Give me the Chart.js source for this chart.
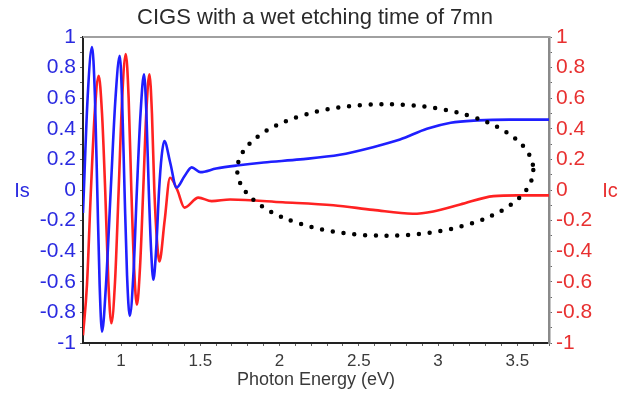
<!DOCTYPE html>
<html>
<head>
<meta charset="utf-8">
<script src="https://cdn.jsdelivr.net/npm/chart.js@4.4.1/dist/chart.umd.min.js"></script>
<style>
  html, body { margin: 0; padding: 0; background: #ffffff; }
  #wrap { width: 630px; height: 394px; }
</style>
</head>
<body>
<div id="wrap"><canvas id="c" width="630" height="394"></canvas></div>
<script>
// ---- data ----
const chartTitle = 'CIGS with a wet etching time of 7mn';
const xTitle = 'Photon Energy (eV)';
const leftTitle = 'Is';
const rightTitle = 'Ic';

const energyIs = [0.76, 0.79, 0.817, 0.835, 0.85, 0.865, 0.88, 0.905, 0.935, 0.965, 0.992, 1.007, 1.022, 1.038, 1.055, 1.078, 1.10, 1.123, 1.145, 1.16, 1.175, 1.19, 1.204, 1.222, 1.24, 1.256, 1.273, 1.31, 1.35, 1.40, 1.446, 1.50, 1.60, 1.73, 1.90, 2.13, 2.38, 2.59, 2.76, 2.93, 3.08, 3.25, 3.45, 3.70];
const valuesIs = [-0.15, 0.62, 0.934, 0.62, 0.0, -0.62, -0.926, -0.62, 0.0, 0.6, 0.877, 0.58, 0.0, -0.56, -0.823, -0.55, 0.0, 0.5, 0.757, 0.5, 0.0, -0.4, -0.587, -0.38, 0.0, 0.22, 0.32, 0.18, 0.016, 0.09, 0.148, 0.117, 0.14, 0.16, 0.18, 0.20, 0.23, 0.28, 0.33, 0.40, 0.44, 0.455, 0.46, 0.46];

const energyIc = [0.76, 0.785, 0.81, 0.835, 0.859, 0.88, 0.90, 0.92, 0.939, 0.962, 0.985, 1.008, 1.03, 1.048, 1.065, 1.083, 1.10, 1.12, 1.14, 1.16, 1.179, 1.195, 1.21, 1.226, 1.242, 1.275, 1.309, 1.355, 1.40, 1.488, 1.572, 1.688, 2.02, 2.34, 2.59, 2.84, 2.97, 3.14, 3.35, 3.50, 3.70];
const valuesIc = [-0.95, -0.62, 0.0, 0.52, 0.746, 0.5, 0.0, -0.6, -0.871, -0.6, 0.0, 0.62, 0.889, 0.6, 0.0, -0.52, -0.75, -0.5, 0.0, 0.52, 0.757, 0.5, 0.0, -0.32, -0.467, -0.2, 0.08, 0.0, -0.115, -0.05, -0.073, -0.062, -0.08, -0.10, -0.13, -0.155, -0.14, -0.095, -0.04, -0.035, -0.035];

const xRange = [0.76, 3.70];
const yRange = [-1, 1];

// dotted ellipse annotation (data units: centre energy / Is value, radii)
const ellipseCenter = [2.667, 0.131];
const ellipseRadii = [0.934, 0.43];

// ---- styling ----
const BLUE = '#1f1fff';
const RED = '#ff2222';
const BLUE_TXT = '#2a2ae0';
const RED_TXT = '#e83030';
const FONT = '"Liberation Sans", Arial, sans-serif';

const toPoints = (xs, ys) => xs.map((x, i) => ({ x: x, y: ys[i] }));
const isMultiple = (v, step) => Math.abs(v / step - Math.round(v / step)) < 1e-6;
const fmt = (v) => String(Math.round(v * 10) / 10);

const extras = {
  id: 'extras',
  afterDraw(chart) {
    const { ctx, chartArea, scales } = chart;
    const { left, right, top } = chartArea;
    const x = scales.x, yIs = scales.yIs;
    ctx.save();
    // top frame line
    ctx.strokeStyle = '#a0a0a0';
    ctx.lineWidth = 2;
    ctx.beginPath();
    ctx.moveTo(left, top);
    ctx.lineTo(right + 1, top);
    ctx.stroke();

    // dotted ellipse
    const cx = x.getPixelForValue(ellipseCenter[0]);
    const cy = yIs.getPixelForValue(ellipseCenter[1]);
    const rx = x.getPixelForValue(ellipseCenter[0] + ellipseRadii[0]) - cx;
    const ry = cy - yIs.getPixelForValue(ellipseCenter[1] + ellipseRadii[1]);
    ctx.strokeStyle = '#000000';
    ctx.lineWidth = 4.5;
    ctx.lineCap = 'round';
    ctx.setLineDash([0, 10.8]);
    ctx.beginPath();
    ctx.ellipse(cx, cy, rx, ry, 0, 0, Math.PI * 2);
    ctx.stroke();
    ctx.setLineDash([]);

    // horizontal side titles
    const y0 = yIs.getPixelForValue(0);
    ctx.font = '20px ' + FONT;
    ctx.textAlign = 'center';
    ctx.textBaseline = 'middle';
    ctx.fillStyle = BLUE_TXT;
    ctx.fillText(leftTitle, 22, y0 + 1);
    ctx.fillStyle = RED_TXT;
    ctx.fillText(rightTitle, 610, y0 + 1);
    ctx.restore();
  }
};

new Chart(document.getElementById('c'), {
  type: 'line',
  data: {
    datasets: [
      {
        label: leftTitle,
        data: toPoints(energyIs, valuesIs),
        yAxisID: 'yIs',
        borderColor: BLUE,
        borderWidth: 2.6,
        pointRadius: 0,
        cubicInterpolationMode: 'monotone',
        fill: false
      },
      {
        label: rightTitle,
        data: toPoints(energyIc, valuesIc),
        yAxisID: 'yIc',
        borderColor: RED,
        borderWidth: 2.6,
        pointRadius: 0,
        cubicInterpolationMode: 'monotone',
        fill: false
      }
    ]
  },
  options: {
    responsive: false,
    animation: false,
    devicePixelRatio: 1,
    layout: { padding: { left: 0, right: 0, top: 0, bottom: 0 } },
    plugins: {
      legend: { display: false },
      tooltip: { enabled: false },
      title: {
        display: true,
        text: chartTitle,
        color: '#2a2a2a',
        font: { family: FONT, size: 22, weight: 'normal', lineHeight: 1.2 },
        padding: { top: 5, bottom: 5.6 }
      }
    },
    scales: {
      x: {
        type: 'linear',
        position: 'bottom',
        min: xRange[0],
        max: xRange[1],
        afterFit(s) { s.height = 51; },
        ticks: {
          stepSize: 0.1,
          includeBounds: false,
          autoSkip: false,
          maxRotation: 0,
          padding: 5,
          color: '#3a3a3a',
          font: { family: FONT, size: 17 },
          callback: (v) => isMultiple(v, 0.5) ? fmt(v) : ''
        },
        grid: { display: true, drawOnChartArea: false, drawTicks: true, tickLength: 3, tickColor: '#666666' },
        border: { display: true, color: '#222222', width: 2 },
        title: {
          display: true,
          text: xTitle,
          color: '#3a3a3a',
          font: { family: FONT, size: 18 },
          padding: { top: 0, bottom: 3 }
        }
      },
      yIs: {
        type: 'linear',
        position: 'left',
        min: yRange[0],
        max: yRange[1],
        afterFit(s) { s.width = 83; },
        ticks: {
          stepSize: 0.1,
          autoSkip: false,
          padding: 4,
          color: BLUE_TXT,
          font: { family: FONT, size: 21 },
          callback: (v) => isMultiple(v, 0.2) ? fmt(v) : ''
        },
        grid: { display: true, drawOnChartArea: false, drawTicks: true, tickLength: 3, tickColor: '#666666' },
        border: { display: true, color: '#222222', width: 2 }
      },
      yIc: {
        type: 'linear',
        position: 'right',
        min: yRange[0],
        max: yRange[1],
        afterFit(s) { s.width = 81; },
        ticks: {
          stepSize: 0.1,
          autoSkip: false,
          padding: 4,
          color: RED_TXT,
          font: { family: FONT, size: 21 },
          callback: (v) => isMultiple(v, 0.2) ? fmt(v) : ''
        },
        grid: { display: true, drawOnChartArea: false, drawTicks: true, tickLength: 3, tickColor: '#666666' },
        border: { display: true, color: '#8a8a8a', width: 2.5 }
      }
    }
  },
  plugins: [extras]
});
</script>
</body>
</html>
